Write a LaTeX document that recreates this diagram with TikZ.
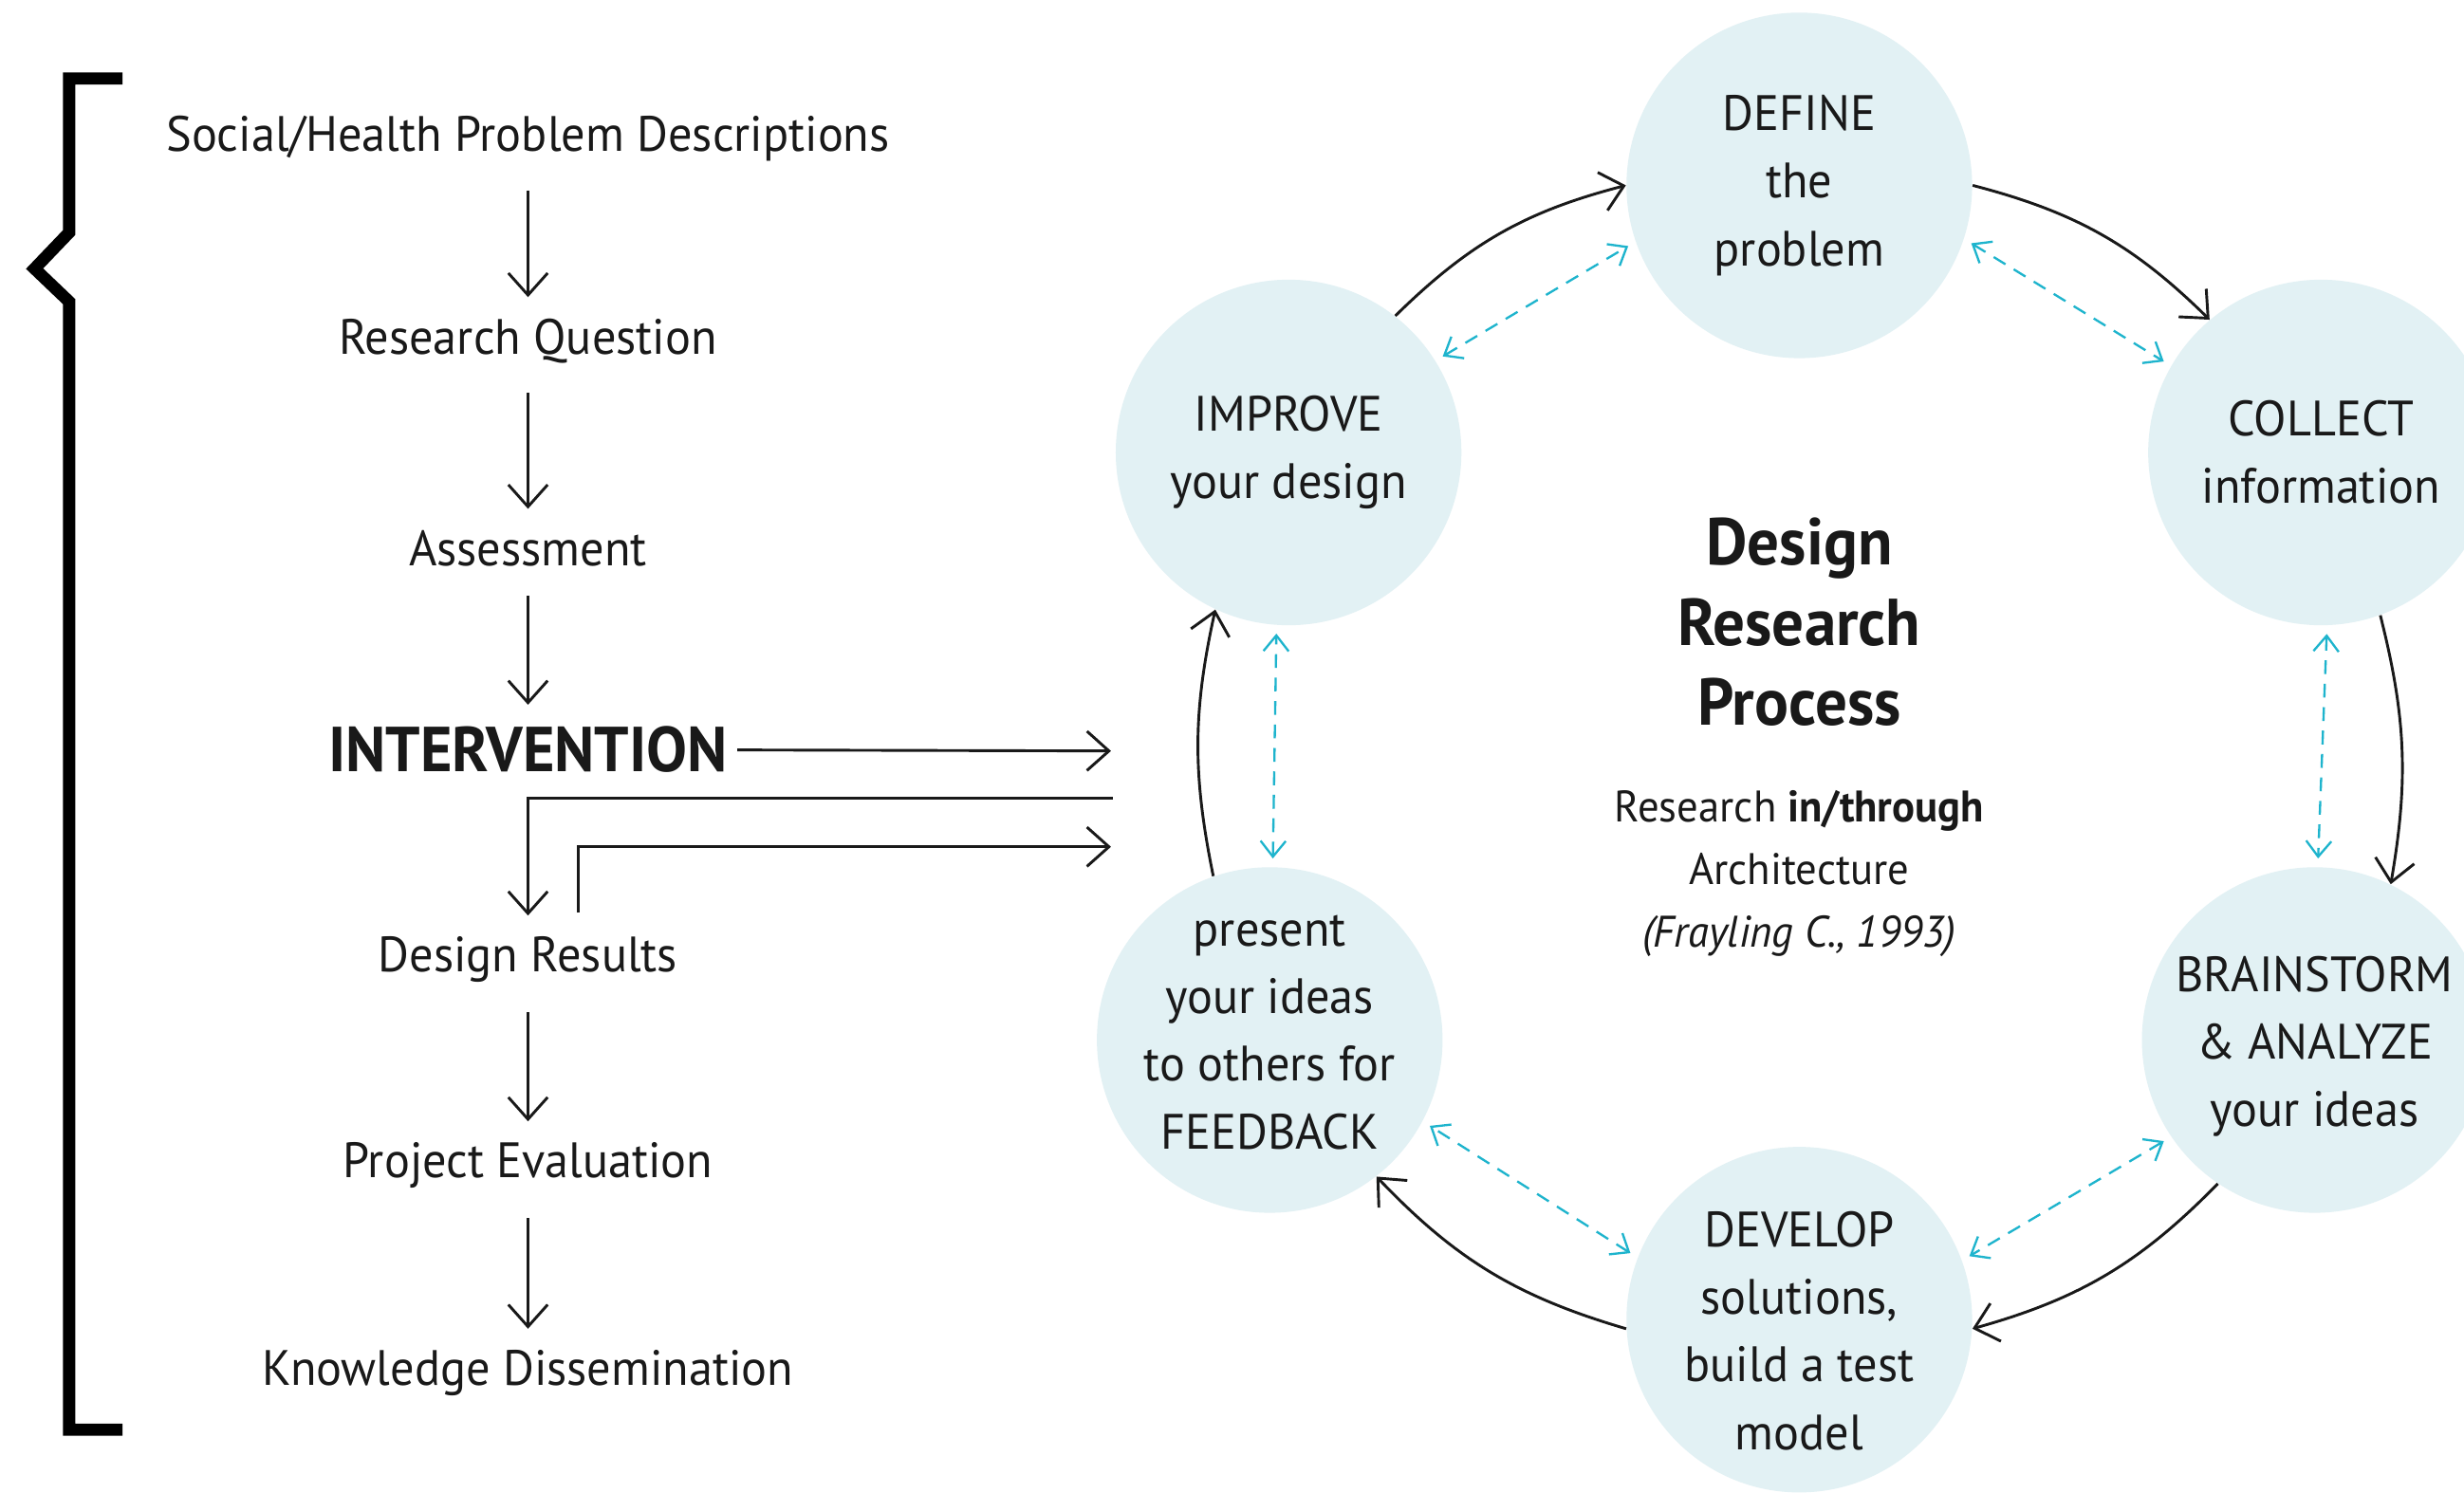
\documentclass[tikz,border=0pt]{standalone}
\usepackage{fontspec}
\setmainfont{PT Sans}[FakeStretch=0.96]
\usetikzlibrary{arrows.meta}
\definecolor{stagefill}{RGB}{226,241,244}
\definecolor{linkcyan}{RGB}{30,180,205}
\definecolor{ink}{RGB}{25,25,25}
\tikzset{
  stage/.style={circle,fill=stagefill,minimum size=4.4cm,inner sep=0pt},
  stagetext/.style={align=center,font=\fontsize{18}{24.5}\selectfont,text=ink},
  steptext/.style={font=\fontsize{18}{22}\selectfont,text=ink},
  loopline/.style={->,line width=1pt,draw=ink},
  feedline/.style={<->,>={Straight Barb[length=2mm,width=3.2mm]},draw=linkcyan,line width=0.8pt,
    dash pattern=on 5pt off 3.5pt,shorten <=3pt,shorten >=3pt},
}
\begin{document}
\begin{tikzpicture}[x=0.02cm,y=-0.02cm,>={Straight Barb[length=2.8mm,width=5mm]}]
  \clip (0,0) rectangle (1568,950);
  \fill[white] (0,0) rectangle (1568,950);
  % bracket
  \draw[line width=4.4pt,line join=miter] (78,50) -- (44,50) -- (44,148) -- (22,171) -- (44,192) -- (44,910) -- (78,910);
  % steps
  \node[steptext] (social) at (336,88) {Social/Health Problem Descriptions};
  \node[steptext] (question) at (336,217) {Research Question};
  \node[steptext] (assess) at (336,349) {Assessment};
  \node[font=\fontsize{23}{23}\bfseries\selectfont,text=ink] (interv) at (336,477) {INTERVENTION};
  \node[steptext] (results) at (336,611) {Design Results};
  \node[steptext] (evaluation) at (336,742) {Project Evaluation};
  \node[steptext] (dissem) at (336,874) {Knowledge Dissemination};
  \draw[loopline,shorten <=2.5mm,shorten >=1.5mm] (social) -- (question);
  \draw[loopline,shorten <=2.5mm,shorten >=1.5mm] (question) -- (assess);
  \draw[loopline,shorten <=2.5mm,shorten >=1.5mm] (assess) -- (interv);
  \draw[loopline,shorten <=2.5mm,shorten >=1.5mm] (results) -- (evaluation);
  \draw[loopline,shorten <=2.5mm,shorten >=1.5mm] (evaluation) -- (dissem);
  \coordinate (toloop) at (707,478);
  \coordinate (fromloop) at (708,508);
  \coordinate (outres) at (368,581);
  \coordinate (toloop2) at (707,539);
  \draw[loopline] (interv) -- (toloop);
  \draw[loopline,shorten >=1.5mm] (fromloop) -| (results);
  \draw[loopline] (outres) |- (toloop2);
  % cycle
  \node[stage] (define) at (1145,118) {};
  \node[stage] (collect) at (1477,288) {};
  \node[stage] (brain) at (1473,662) {};
  \node[stage] (develop) at (1145,840) {};
  \node[stage] (present) at (808,662) {};
  \node[stage] (improve) at (820,288) {};
  \node[stagetext] at (define) {DEFINE\\the\\problem};
  \node[stagetext] at (collect) {COLLECT\\information};
  \node[stagetext] at (1473,666) {BRAINSTORM\\\&~ANALYZE\\your ideas};
  \node[stagetext] at (1145,847) {DEVELOP\\solutions,\\build a test\\model};
  \node[stagetext] at (808,657) {present\\your ideas\\to others for\\FEEDBACK};
  \node[stagetext] at (improve) {IMPROVE\\your design};
  \draw[loopline] (improve.52) to[bend left=15] (define.180);
  \draw[loopline] (define.0) to[bend left=15] (collect.130);
  \draw[loopline] (collect.-70) to[bend left=12] (brain.64);
  \draw[loopline] (brain.236) to[bend left=15] (develop.-3);
  \draw[loopline] (develop.183) to[bend left=15] (present.-52);
  \draw[loopline] (present.109) to[bend left=12] (improve.245);
  \draw[feedline] (improve.32) -- (define.199);
  \draw[feedline] (define.-18) -- (collect.150);
  \draw[feedline] (collect.-88) -- (brain.89);
  \draw[feedline] (brain.214) -- (develop.20);
  \draw[feedline] (develop.159) -- (present.-28);
  \draw[feedline] (present.89) -- (improve.-94);
  % centre
  \node[align=center,font=\fontsize{24}{29}\bfseries\selectfont,text=ink] (title) at (1145,396) {Design\\Research\\Process};
  \node[align=center,font=\fontsize{16}{22.7}\selectfont,text=ink] (source) at (1145,556) {Research \textbf{in/through}\\Architecture\\\textit{(Frayling C., 1993)}};
\end{tikzpicture}
\end{document}
